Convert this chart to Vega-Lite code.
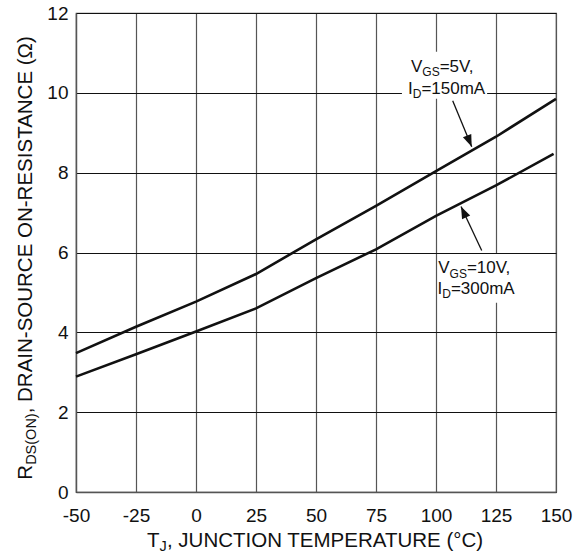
{
  "$schema": "https://vega.github.io/schema/vega-lite/v6.json",
  "width": 480,
  "height": 479,
  "autosize": {"type": "none"},
  "padding": {"left": 76, "top": 13, "right": 31, "bottom": 65},
  "background": "white",
  "config": {
    "view": {"stroke": "#555", "strokeWidth": 1.2},
    "font": "Liberation Sans",
    "text": {"font": "Liberation Sans", "color": "#111"}
  },
  "datasets": {
    "curves": [
      {"x": -50, "y": 3.48, "series": "VGS=5V"},
      {"x": -25, "y": 4.14, "series": "VGS=5V"},
      {"x": 0, "y": 4.77, "series": "VGS=5V"},
      {"x": 25, "y": 5.46, "series": "VGS=5V"},
      {"x": 50, "y": 6.33, "series": "VGS=5V"},
      {"x": 75, "y": 7.17, "series": "VGS=5V"},
      {"x": 100, "y": 8.04, "series": "VGS=5V"},
      {"x": 125, "y": 8.9, "series": "VGS=5V"},
      {"x": 150, "y": 9.85, "series": "VGS=5V"},
      {"x": -50, "y": 2.89, "series": "VGS=10V"},
      {"x": -25, "y": 3.45, "series": "VGS=10V"},
      {"x": 0, "y": 4.02, "series": "VGS=10V"},
      {"x": 25, "y": 4.6, "series": "VGS=10V"},
      {"x": 50, "y": 5.36, "series": "VGS=10V"},
      {"x": 75, "y": 6.08, "series": "VGS=10V"},
      {"x": 100, "y": 6.92, "series": "VGS=10V"},
      {"x": 125, "y": 7.68, "series": "VGS=10V"},
      {"x": 149, "y": 8.47, "series": "VGS=10V"}
    ],
    "boxes": [
      {"x": 85.8, "x2": 121.3, "y": 9.85, "y2": 11.03},
      {"x": 100.9, "x2": 132.9, "y": 4.74, "y2": 5.96}
    ],
    "arrows": [
      {"id": 1, "x": 106.96, "y": 9.8, "x2": 114.88, "y2": 8.65},
      {"id": 2, "x": 119.04, "y": 6.05, "x2": 110.42, "y2": 7.15}
    ],
    "annot": [
      {"text": "V", "x": 89.58, "y": 10.534},
      {"text": "=5V,", "x": 101.54, "y": 10.534},
      {"text": "I", "x": 88.33, "y": 9.975},
      {"text": "=150mA", "x": 93.92, "y": 9.975},
      {"text": "V", "x": 100.96, "y": 5.481},
      {"text": "=10V,", "x": 112.88, "y": 5.481},
      {"text": "I", "x": 100.63, "y": 4.962},
      {"text": "=300mA", "x": 106.21, "y": 4.962}
    ],
    "annotSub": [
      {"text": "GS", "x": 94.29, "y": 10.534},
      {"text": "D", "x": 90.29, "y": 9.975},
      {"text": "GS", "x": 105.67, "y": 5.481},
      {"text": "D", "x": 102.58, "y": 4.962}
    ],
    "xTitle": [
      {"text": "T", "x": -20.4, "y": 0},
      {"text": ", JUNCTION TEMPERATURE (°C)", "x": -12.1, "y": 0}
    ],
    "xTitleSub": [
      {"text": "J", "x": -15.2, "y": 0}
    ],
    "yTitle": [
      {"text": "R", "x": -50, "y": 0.31},
      {"text": ", DRAIN-SOURCE ON-RESISTANCE (Ω)", "x": -50, "y": 1.97}
    ],
    "yTitleSub": [
      {"text": "DS(ON)", "x": -50, "y": 0.68}
    ]
  },
  "encoding": {
    "x": {
      "field": "x",
      "type": "quantitative",
      "scale": {"domain": [-50, 150], "nice": false, "zero": false},
      "axis": {
        "values": [-50, -25, 0, 25, 50, 75, 100, 125, 150],
        "labelExpr": "replace(datum.label, '\u2212', '-')",
        "title": null,
        "grid": true,
        "gridColor": "#555",
        "gridWidth": 1.2,
        "gridOpacity": 1,
        "ticks": false,
        "tickSize": 0,
        "labelPadding": 14,
        "labelFontSize": 19,
        "labelFont": "Liberation Sans",
        "labelColor": "#111",
        "labelFlush": false,
        "labelOverlap": false,
        "domainColor": "#555",
        "domainWidth": 1.3
      }
    },
    "y": {
      "field": "y",
      "type": "quantitative",
      "scale": {"domain": [0, 12], "nice": false, "zero": false},
      "axis": {
        "values": [0, 2, 4, 6, 8, 10, 12],
        "title": null,
        "grid": true,
        "gridColor": "#111",
        "gridWidth": 1,
        "gridOpacity": 1,
        "ticks": false,
        "tickSize": 0,
        "labelPadding": 8,
        "labelFontSize": 19,
        "labelFont": "Liberation Sans",
        "labelColor": "#111",
        "labelFlush": false,
        "labelOverlap": false,
        "domainColor": "#555",
        "domainWidth": 1.3
      }
    }
  },
  "layer": [
    {
      "data": {"name": "boxes"},
      "mark": {"type": "rect", "color": "white", "opacity": 1},
      "encoding": {
        "x2": {"field": "x2"},
        "y2": {"field": "y2"}
      }
    },
    {
      "data": {"name": "curves"},
      "mark": {"type": "line", "color": "#111", "strokeWidth": 2.6},
      "encoding": {
        "detail": {"field": "series", "type": "nominal"}
      }
    },
    {
      "data": {"name": "arrows"},
      "mark": {"type": "rule", "color": "#111", "strokeWidth": 1.3},
      "encoding": {
        "x2": {"field": "x2"},
        "y2": {"field": "y2"}
      }
    },
    {
      "data": {"name": "arrows"},
      "transform": [{"filter": "datum.id == 1"}],
      "mark": {"type": "point", "shape": "M0,0L-0.9,2.4L0.9,2.4Z", "filled": true, "size": 100, "angle": 157.4, "color": "#111", "opacity": 1, "strokeWidth": 0},
      "encoding": {
        "x": {"field": "x2", "type": "quantitative"},
        "y": {"field": "y2", "type": "quantitative"}
      }
    },
    {
      "data": {"name": "arrows"},
      "transform": [{"filter": "datum.id == 2"}],
      "mark": {"type": "point", "shape": "M0,0L-0.9,2.4L0.9,2.4Z", "filled": true, "size": 100, "angle": 334.8, "color": "#111", "opacity": 1, "strokeWidth": 0},
      "encoding": {
        "x": {"field": "x2", "type": "quantitative"},
        "y": {"field": "y2", "type": "quantitative"}
      }
    },
    {
      "data": {"name": "annot"},
      "mark": {"type": "text", "align": "left", "baseline": "alphabetic", "fontSize": 17, "font": "Liberation Sans", "color": "#111"},
      "encoding": {"text": {"field": "text", "type": "nominal"}}
    },
    {
      "data": {"name": "annotSub"},
      "mark": {"type": "text", "align": "left", "baseline": "alphabetic", "fontSize": 12, "dy": 4.3, "font": "Liberation Sans", "color": "#111"},
      "encoding": {"text": {"field": "text", "type": "nominal"}}
    },
    {
      "data": {"name": "xTitle"},
      "mark": {"type": "text", "align": "left", "baseline": "alphabetic", "fontSize": 20.5, "dy": 54.7, "font": "Liberation Sans", "color": "#111"},
      "encoding": {"text": {"field": "text", "type": "nominal"}}
    },
    {
      "data": {"name": "xTitleSub"},
      "mark": {"type": "text", "align": "left", "baseline": "alphabetic", "fontSize": 14.5, "dy": 58.7, "font": "Liberation Sans", "color": "#111"},
      "encoding": {"text": {"field": "text", "type": "nominal"}}
    },
    {
      "data": {"name": "yTitle"},
      "mark": {"type": "text", "align": "left", "baseline": "alphabetic", "angle": 270, "fontSize": 20.5, "dy": -44.5, "font": "Liberation Sans", "color": "#111"},
      "encoding": {"text": {"field": "text", "type": "nominal"}}
    },
    {
      "data": {"name": "yTitleSub"},
      "mark": {"type": "text", "align": "left", "baseline": "alphabetic", "angle": 270, "fontSize": 14.5, "dy": -40.5, "font": "Liberation Sans", "color": "#111"},
      "encoding": {"text": {"field": "text", "type": "nominal"}}
    }
  ]
}
